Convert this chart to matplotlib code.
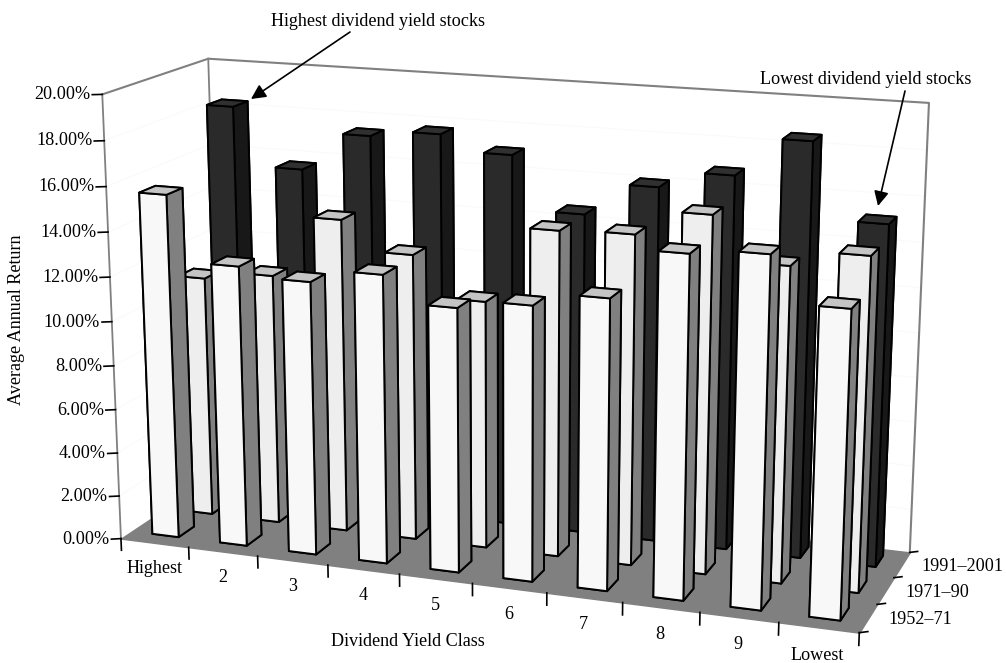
import numpy as np
import matplotlib
matplotlib.use("Agg")
import matplotlib.pyplot as plt
from mpl_toolkits.mplot3d.art3d import Poly3DCollection

plt.rcParams["font.family"] = ["Liberation Serif", "DejaVu Serif"]

class_labels = ["Highest", "2", "3", "4", "5", "6", "7", "8", "9", "Lowest"]
period_labels = ["1952–71", "1971–90", "1991–2001"]
return_ticks = [0, 2, 4, 6, 8, 10, 12, 14, 16, 18, 20]

returns_1952 = [15.6, 12.7, 12.3, 12.9, 11.75, 12.15, 12.75, 14.9, 15.15, 13.2]
returns_1971 = [11.1, 11.5, 14.3, 13.0, 11.2, 14.6, 14.7, 15.8, 13.9, 14.6]
returns_1991 = [18.3, 15.65, 17.4, 17.7, 17.0, 14.6, 16.05, 16.8, 18.5, 15.2]
series = [returns_1952, returns_1971, returns_1991]

BAR_X0, BAR_W = 0.305, 0.39
BAR_Y0, BAR_D = 0.31, 0.45
FONT = 13.1

# front face, side face, top face of one bar in each row
row_colors = [("#F8F8F8", "#808080", "#C4C4C4"),
              ("#EEEEEE", "#808080", "#C4C4C4"),
              ("#2A2A2A", "#181818", "#303030")]

W, H = 1006, 663
fig = plt.figure(figsize=(W / 100, H / 100), dpi=100)
# Axes3D forces a square box, so make it as wide as the figure
side = W / H
ax = fig.add_axes([0, (1 - side) / 2, 1, side], projection="3d")
ax.apply_aspect()
ax.set_axis_off()
ax.patch.set_alpha(0)
ax.computed_zorder = False

# camera fitted to the corners of the box: (class, period, return) -> pixel
box_world = [(0, 0, 0), (10, 0, 0), (10, 3, 0),
             (0, 0, 20), (0, 3, 20), (10, 3, 20)]
box_pixel = [(121, 538.7), (859, 633), (910, 552),
             (102.5, 94), (208, 59), (929, 103)]

inv = ax.transData.inverted()
rows = []
for (wx, wy, wz), (px, py) in zip(box_world, box_pixel):
    u, v = inv.transform((px, H - py))
    p = [wx, wy, wz, 1]
    rows.append(p + [0, 0, 0, 0] + [-u * c for c in p])
    rows.append([0, 0, 0, 0] + p + [-v * c for c in p])
A = np.array(rows)
P = np.linalg.svd(A)[2][-1].reshape(3, 4)
if P[2, 3] < 0:
    P = -P
M = np.vstack([P[0], P[1], [0, 0, 0, -1], P[2]])
ax.get_proj = lambda: M


def to_pixel(x, y, z):
    """Point of the 3D box -> pixel of the picture, for the labels."""
    u, v, w = P @ [x, y, z, 1]
    dx, dy = ax.transData.transform((u / w, v / w))
    return dx, H - dy


# floor and walls
floor = [[(0, 0, 0), (10, 0, 0), (10, 3, 0), (0, 3, 0)]]
ax.add_collection3d(Poly3DCollection(floor, facecolor="#808080", edgecolor="#808080", zorder=1))
wall_c = "#808080"
ax.plot([0, 0], [0, 0], [0, 20], color=wall_c, lw=1.3, zorder=2)
ax.plot([0, 0, 10, 10], [0, 3, 3, 3], [20, 20, 20, 0], color=wall_c, lw=1.5, zorder=2)
ax.plot([0, 0], [3, 3], [0, 20], color=wall_c, lw=1.3, zorder=2)
for v in return_ticks[1:-1]:
    ax.plot([0, 0, 10], [0, 3, 3], [v, v, v], color="#FAFAFA", lw=0.8, zorder=1.5)

# bars, back row first and left to right
z = 3
for j in [2, 1, 0]:
    front, sidec, top = row_colors[j]
    # bar3d face order: bottom, top, -y, +y, -x, +x
    colors = [front, top, front, front, sidec, sidec]
    for i, val in enumerate(series[j]):
        ax.bar3d(i + BAR_X0, j + BAR_Y0, 0, BAR_W, BAR_D, val, color=colors,
                 shade=False, edgecolor="black", linewidth=1.4, zorder=z)
        z += 1

# ticks
tick_c = "black"
for v in return_ticks:
    ax.plot([0, -0.11], [0, -0.06], [v, v], color=tick_c, lw=1.2, zorder=z)
for i in range(11):
    ax.plot([i, i], [0, 0], [0, -0.55], color=tick_c, lw=1.2, zorder=z)
for j in range(4):
    ax.plot([10, 10.09], [j, j + 0.07], [0, 0], color=tick_c, lw=1.2, zorder=z)

# overlay in pixels for all the texts and arrows
over = fig.add_axes([0, 0, 1, 1])
over.set_xlim(0, W)
over.set_ylim(H, 0)
over.axis("off")

for v in return_ticks:
    px, py = to_pixel(-0.11, -0.06, v)
    over.text(px - 2, py, f"{v:.2f}%", ha="right", va="center", fontsize=FONT)
for i, lab in enumerate(class_labels):
    px, py = to_pixel(i + 0.5, 0, -1.25)
    over.text(px - 1, py - 1, lab, ha="center", va="center", fontsize=FONT)
for j, lab in enumerate(period_labels):
    px, py = to_pixel(10.22, j + 0.66, -0.15)
    over.text(px, py, lab, ha="left", va="center", fontsize=FONT)

over.text(17, 320, "Average Annual Return", rotation=90, ha="center", va="center", fontsize=FONT)
over.text(408, 641, "Dividend Yield Class", ha="center", va="center", fontsize=FONT)
arrow = dict(arrowstyle="-|>", color="black", lw=1.2, mutation_scale=22, shrinkA=0, shrinkB=0)
over.text(378, 22, "Highest dividend yield stocks", ha="center", va="center", fontsize=FONT)
over.annotate("", xy=(251, 99), xytext=(350, 32), arrowprops=arrow)
over.text(866, 79, "Lowest dividend yield stocks", ha="center", va="center", fontsize=FONT)
over.annotate("", xy=(878, 206), xytext=(905, 91), arrowprops=arrow)

fig.savefig("out.png", dpi=100)
